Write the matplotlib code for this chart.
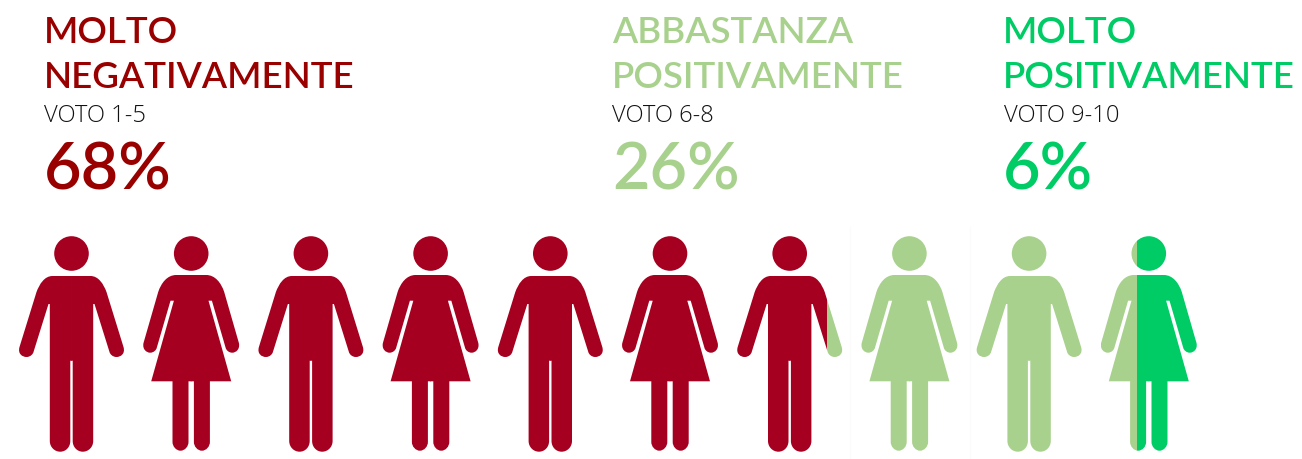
import numpy as np
import matplotlib
matplotlib.use('Agg')
import matplotlib.pyplot as plt
from matplotlib.path import Path
from matplotlib.patches import PathPatch, Circle, Rectangle

headings = [['MOLTO', 'NEGATIVAMENTE'], ['ABBASTANZA', 'POSITIVAMENTE'], ['MOLTO', 'POSITIVAMENTE']]
votes = ['VOTO 1-5', 'VOTO 6-8', 'VOTO 9-10']
percents = [68, 26, 6]
text_colors = ['#990000', '#A9D18E', '#00CC66']
icon_colors = ['#A5001F', '#A9D18E', '#00CC66']
text_x = [45, 613, 1004]

# men and women alternate
genders = ['m', 'f', 'm', 'f', 'm', 'f', 'm', 'f', 'm', 'f']
# how many icons are filled up to the end of each group (as drawn, not exact %)
filled_icons = [6.85, 9.38, 10]

M, L, C = Path.MOVETO, Path.LINETO, Path.CURVE4

# right half of each icon, x from the middle, y from top of the head
man = [(M, (-0.4, 40)), (L, (19, 40)), (C, (27, 40)), (C, (32, 48)), (C, (35, 56)),
       (L, (52, 111)), (C, (54, 118)), (C, (49, 121)), (C, (45, 121)),
       (C, (41, 121)), (C, (38.5, 118)), (C, (38, 116)),
       (L, (23, 68)), (L, (21.7, 68)), (L, (21.7, 205)),
       (C, (21.7, 211)), (C, (17, 215.7)), (C, (11.3, 215.7)),
       (C, (5.6, 215.7)), (C, (1.2, 211)), (C, (1.2, 205)),
       (L, (1.2, 124.7)), (L, (-0.4, 124.7))]
woman = [(M, (-0.4, 39)), (L, (15, 39)), (C, (24, 39)), (C, (30, 47)), (C, (33, 56)),
         (L, (47.7, 107)), (C, (49, 113)), (C, (45, 116.7)), (C, (41, 116.7)),
         (C, (37.5, 116.7)), (C, (35, 114)), (C, (34.5, 112)),
         (L, (20.7, 64.7)), (L, (17.3, 64.7)), (L, (40, 145.3)), (L, (18.7, 145.3)),
         (L, (18.7, 206)), (C, (18.7, 210.5)), (C, (15, 214.7)), (C, (10.7, 214.7)),
         (C, (6.3, 214.7)), (C, (2.7, 210.5)), (C, (2.7, 206)),
         (L, (2.7, 145.3)), (L, (-0.4, 145.3))]
shapes = {'m': man, 'f': woman}
half_width = {'m': 53, 'f': 48}


def draw_icon(ax, cx, gender, color, x0=None, x1=None):
  top = 237
  patches = [Circle((cx, top + 17.5), 17.3)]
  codes = [c for c, _ in shapes[gender]]
  pts = np.array([p for _, p in shapes[gender]], dtype=float)
  for side in (1, -1):
    verts = pts * [side, 1] + [cx, top]
    patches.append(PathPatch(Path(verts, codes)))
  for p in patches:
    p.set_facecolor(color)
    p.set_edgecolor('none')
    ax.add_patch(p)
    if x0 is not None:
      clip = Rectangle((x0, 0), x1 - x0, 460, transform=ax.transData)
      p.set_clip_path(clip)


fig = plt.figure(figsize=(13.02, 4.6), dpi=100)
ax = fig.add_axes([0, 0, 1, 1])
ax.set_xlim(0, 1302)
ax.set_ylim(460, 0)
ax.axis('off')

for g in range(3):
  ax.text(text_x[g] - 0.8, 43, headings[g][0], color=text_colors[g], family='Lato', fontsize=26.5, weight='semibold', va='baseline')
  ax.text(text_x[g] - 0.8, 88, headings[g][1], color=text_colors[g], family='Lato', fontsize=26.5, weight='semibold', va='baseline')
  ax.text(text_x[g] - 0.5, 122, votes[g], color='#111111', family='Open Sans', fontsize=17.1, weight='light', va='baseline')
  ax.text(text_x[g] - 1, 190, f'{percents[g]}%', color=text_colors[g], family='Lato', fontsize=46.6, weight='semibold', va='baseline')

# faint seams in the original image
ax.axvline(849.5, color='#fbfbfb', lw=0.8, ymin=0, ymax=0.505)
ax.axvline(969.5, color='#fbfbfb', lw=0.8, ymin=0, ymax=0.505)

centers = 71.5 + 119.7 * np.arange(len(genders))
for i, gender in enumerate(genders):
  cx = centers[i]
  w = half_width[gender]
  start = 0.0
  for g in range(3):
    # part of icon i that falls in this group
    a = max(start, i)
    b = min(filled_icons[g], i + 1)
    start = filled_icons[g]
    if b <= a:
      continue
    if a == i and b == i + 1:
      draw_icon(ax, cx, gender, icon_colors[g])
    else:
      x0 = cx - w + (a - i) * 2 * w
      x1 = cx - w + (b - i) * 2 * w
      draw_icon(ax, cx, gender, icon_colors[g], x0, x1)

fig.savefig('out.png', dpi=100)
